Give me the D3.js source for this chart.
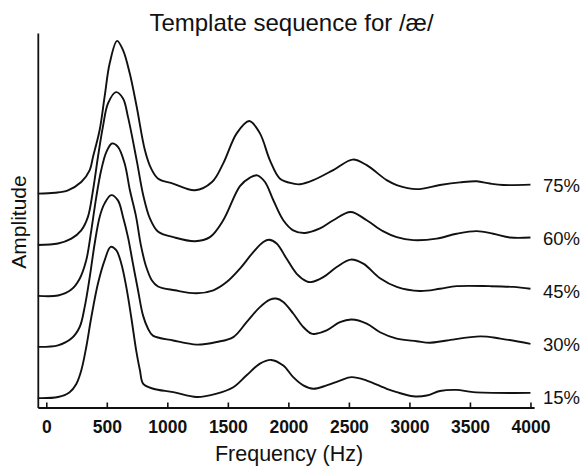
<!DOCTYPE html>
<html><head><meta charset="utf-8">
<script src="https://cdn.jsdelivr.net/npm/d3@7"></script>
<style>body{margin:0;background:#fff} svg{display:block;font-family:"Liberation Sans",Arial,sans-serif}</style>
</head><body>
<svg id="c" width="583" height="468"></svg>
<script>
// Template spectra for /æ/ at five time points (amplitude in arbitrary dB-like units)
const seriesNames = ["15%", "30%", "45%", "60%", "75%"];
const offsets = [2.5, 16.2, 29.8, 43.4, 57.0];
const xTicks = [0, 500, 1000, 1500, 2000, 2500, 3000, 3500, 4000];

const f15 = [-70,97,193,248,289,330,372,427,482,532,578,620,661,702,743,774,801,884,1049,1242,1408,1545,1655,1765,1858,1958,2040,2123,2206,2316,2426,2523,2647,2812,2895,3032,3143,3252,3390,3527,4000];
const a15 = [0,0.3,1.6,3.8,7.4,13.6,21.6,30.6,36.8,40.4,39.5,35.9,29.7,21.6,12.7,7.4,3.8,2.5,1.6,0.3,1.2,2.9,6.1,9.2,10.2,8.7,5.6,3.4,2.5,3.4,4.7,5.6,4.7,2.5,1.6,0.5,0.7,1.9,2.2,1.6,1.4];

const f30 = [-70,97,207,276,317,359,400,441,482,537,592,634,675,716,758,799,840,881,1049,1242,1408,1545,1655,1765,1848,1898,1958,2040,2123,2192,2228,2316,2426,2523,2647,2757,2895,3060,3170,3308,3586,3751,4000];
const a30 = [0,0.4,2.2,5.3,10.6,18.6,27.6,34.7,38.3,40.5,39.1,34.7,29.3,22.2,15.1,8.4,4.9,3.0,1.7,0.6,1.3,2.6,6.6,10.6,12.6,12.9,12.0,8.9,5.3,3.5,3.5,4.4,6.6,7.3,6.2,3.9,2.2,1.5,1.1,1.7,2.8,2.2,0.8];

const f45 = [-70,97,207,276,330,372,413,454,496,543,592,648,691,741,782,824,873,923,1063,1242,1380,1490,1600,1710,1793,1840,1903,1986,2069,2151,2192,2288,2399,2515,2619,2757,2895,3087,3252,3390,3665,3858,4000];
const a45 = [0,0.1,1.7,4.6,9.5,17.5,26.4,33.6,38.4,40.7,39.8,35.3,28.2,21.3,13.5,7.9,4.1,2.5,1.5,0.7,1.5,3.7,7.3,11.7,14.4,15.0,14.0,9.9,5.9,3.9,3.7,5.0,7.7,9.7,8.6,4.7,2.4,1.3,1.9,2.6,2.6,2.4,1.9];

const f60 = [-70,97,207,289,344,386,427,468,510,576,634,675,747,801,856,925,1049,1228,1352,1462,1600,1683,1743,1807,1875,1958,2040,2137,2261,2371,2515,2647,2781,2895,3032,3225,3390,3556,3693,3831,4000];
const a60 = [0,0.4,1.7,3.9,7.5,14.6,23.5,31.6,37.8,40.8,39.1,34.2,22.6,13.3,7.1,3.5,2.1,1.0,2.1,6.6,15.7,18.0,18.6,16.8,12.0,6.6,3.9,3.2,4.4,6.6,8.8,6.6,3.7,2.1,1.3,1.7,3.0,3.7,3.0,2.0,2.0];

const f75 = [-70,72,179,289,359,386,441,482,524,585,634,689,747,815,865,925,1047,1228,1369,1462,1573,1677,1765,1848,1931,2040,2096,2206,2371,2531,2647,2812,2895,3060,3252,3418,3556,3665,3775,4000];
const a75 = [0.1,0.35,1.0,3.2,6.4,9.9,17.1,26.0,34.9,40.9,38.4,32.3,23.3,11.7,6.9,4.1,2.8,1.0,3.2,8.2,16.2,19.5,16.2,9.0,4.1,2.8,2.6,3.7,6.4,9.2,7.7,3.7,2.4,1.3,2.4,3.1,3.4,2.8,2.4,2.5];

const freqs = [f15, f30, f45, f60, f75];
const amps = [a15, a30, a45, a60, a75];

const svg = d3.select("#c");
const x = d3.scaleLinear().domain([-70, 4030]).range([37.8, 534.1]);
const y = d3.scaleLinear().domain([0, 100]).range([407.5, 33]);

// curves
const line = d3.line().x(d => x(d[0])).y(d => y(d[1])).curve(d3.curveCatmullRom.alpha(0.5));
seriesNames.forEach((name, i) => {
  const pts = freqs[i].map((f, j) => [f, amps[i][j] + offsets[i]]);
  svg.append("path").attr("d", line(pts))
    .attr("fill", "none").attr("stroke", "#111").attr("stroke-width", 1.9)
    .attr("stroke-linejoin", "round");
});

// series labels
const labelY = d3.scalePoint().domain(seriesNames).range([396.7, 185]);
svg.append("g").selectAll("text").data(seriesNames).join("text")
  .attr("x", 543).attr("y", d => labelY(d) + 6.8)
  .attr("font-size", 18.5).attr("fill", "#111").text(d => d);

// x axis
const xAxis = d3.axisBottom(x).tickValues(xTicks).tickSizeInner(-5).tickSizeOuter(0).tickFormat(d3.format("d"));
const gx = svg.append("g").attr("transform", "translate(0,407.5)").call(xAxis);
gx.select(".domain").attr("stroke", "#111").attr("stroke-width", 1.8);
gx.selectAll(".tick line").attr("stroke", "#111").attr("stroke-width", 1.6);
gx.selectAll(".tick text").attr("y", 25).attr("dy", null)
  .attr("font-size", 17.5).attr("font-weight", "bold").attr("fill", "#111")
  .attr("font-family", "'Liberation Sans', Arial, sans-serif");

// y axis (line only)
const yAxis = d3.axisLeft(y).tickValues([]).tickSizeOuter(0);
const gy = svg.append("g").attr("transform", "translate(37.8,0)").call(yAxis);
gy.select(".domain").attr("stroke", "#111").attr("stroke-width", 1.8);

// titles
svg.append("text").attr("x", 291.5).attr("y", 31).attr("text-anchor", "middle")
  .attr("font-size", 24).attr("fill", "#111").text("Template sequence for /æ/");
svg.append("text").attr("x", 289).attr("y", 461).attr("text-anchor", "middle")
  .attr("font-size", 21.5).attr("fill", "#111").text("Frequency (Hz)");
svg.append("text").attr("transform", "translate(26,222) rotate(-90)").attr("text-anchor", "middle")
  .attr("font-size", 21).attr("fill", "#111").text("Amplitude");
</script>
</body></html>
